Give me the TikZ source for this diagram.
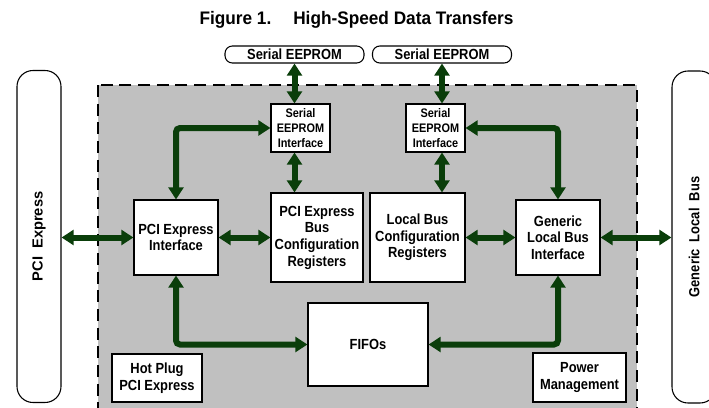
\documentclass[tikz,border=0pt]{standalone}
\usepackage{fontspec}
\setmainfont{Liberation Sans}
\newfontfamily\narrowfont[FakeStretch=0.88]{Liberation Sans}
\newfontfamily\titlefont[FakeStretch=0.95]{Liberation Sans}
\usetikzlibrary{arrows.meta}

\definecolor{busgreen}{RGB}{10,62,10}
\definecolor{chipgray}{RGB}{192,192,192}

\tikzset{
  blk/.style={draw, fill=white, line width=0.8pt, inner sep=0pt, align=center,
    font=\narrowfont\bfseries\fontsize{11}{12.5}\selectfont},
  smallblk/.style={blk, font=\narrowfont\bfseries\fontsize{9.3}{11}\selectfont,
    minimum width=44.25pt, minimum height=36pt},
  eeprom/.style={blk, rounded corners=5.5pt, minimum width=104.25pt, minimum height=12.75pt},
  busbar/.style={draw, line width=0.8pt, rounded corners=12pt, inner sep=0pt,
    minimum width=33pt, minimum height=249pt},
  link/.style={draw=busgreen, line width=4.5pt, rounded corners=3pt,
    {Triangle[width=11pt,length=9pt]}-{Triangle[width=11pt,length=9pt]}}
}

\begin{document}
\begin{tikzpicture}[x=0.75pt, y=-0.75pt]

  \clip (0,0) rectangle (709,407);

  % --- Title ---
  \node[font=\titlefont\bfseries\fontsize{13.6}{16}\selectfont] (title) at (356.5,20)
    {Figure 1.\hspace{16.5pt}High-Speed Data Transfers};

  % --- Chip outline ---
  \draw[fill=chipgray, line width=1.8pt, dash pattern=on 9pt off 5pt]
    (98,85) rectangle (637,440);

  % --- External buses ---
  \node[busbar, font=\bfseries\fontsize{11}{13}\selectfont] (pcie) at (39,236.5)
    {\rotatebox{90}{PCI\ \ Express}};
  \node[busbar, font=\narrowfont\bfseries\fontsize{11}{13}\selectfont] (glb) at (694,237)
    {\rotatebox{90}{Generic\ \ Local\ \ Bus}};

  % --- Serial EEPROMs ---
  \node[eeprom] (eepA) at (294.5,54.5) {Serial EEPROM};
  \node[eeprom] (eepB) at (442,54.5) {Serial EEPROM};

  % --- Serial EEPROM interfaces ---
  \node[smallblk] (seiA) at (300.5,128) {Serial\\EEPROM\\Interface};
  \node[smallblk] (seiB) at (435.5,128) {Serial\\EEPROM\\Interface};

  % --- Interfaces and registers ---
  \node[blk, minimum width=63pt, minimum height=56.25pt] (pcieIf) at (176,237.5)
    {PCI Express\\Interface};
  \node[blk, minimum width=69pt, minimum height=66.75pt] (pcieCfg) at (317,237.5)
    {PCI Express\\Bus\\Configuration\\Registers};
  \node[blk, minimum width=71.25pt, minimum height=66.75pt] (lbCfg) at (417.5,237.5)
    {Local Bus\\Configuration\\Registers};
  \node[blk, minimum width=63pt, minimum height=56.25pt] (glbIf) at (558,237.5)
    {Generic\\Local Bus\\Interface};

  % --- FIFOs and side blocks ---
  \node[blk, minimum width=90pt, minimum height=62.25pt] (fifo) at (368,344.5) {FIFOs};
  \node[blk, minimum width=67.5pt, minimum height=36pt] (hotplug) at (157,378)
    {Hot Plug\\PCI Express};
  \node[blk, minimum width=69.75pt, minimum height=36.75pt] (power) at (579.5,377.5)
    {Power\\Management};

  % --- Data paths ---
  \draw[link] (eepA.south) -- (eepA.south |- seiA.north);
  \draw[link] (eepA.south |- seiA.south) -- (eepA.south |- pcieCfg.north);
  \draw[link] (pcieIf.north) |- (seiA.west);
  \draw[link] (pcie.east |- pcieIf.west) -- (pcieIf.west);
  \draw[link] (pcieIf.east) -- (pcieCfg.west);
  \draw[link] (pcieIf.south) |- (fifo.west);

  \draw[link] (eepB.south) -- (eepB.south |- seiB.north);
  \draw[link] (eepB.south |- seiB.south) -- (eepB.south |- lbCfg.north);
  \draw[link] (seiB.east) -| (glbIf.north);
  \draw[link] (lbCfg.east) -- (glbIf.west);
  \draw[link] (glbIf.east) -- (glb.west |- glbIf.east);
  \draw[link] (glbIf.south) |- (fifo.east);

\end{tikzpicture}
\end{document}
